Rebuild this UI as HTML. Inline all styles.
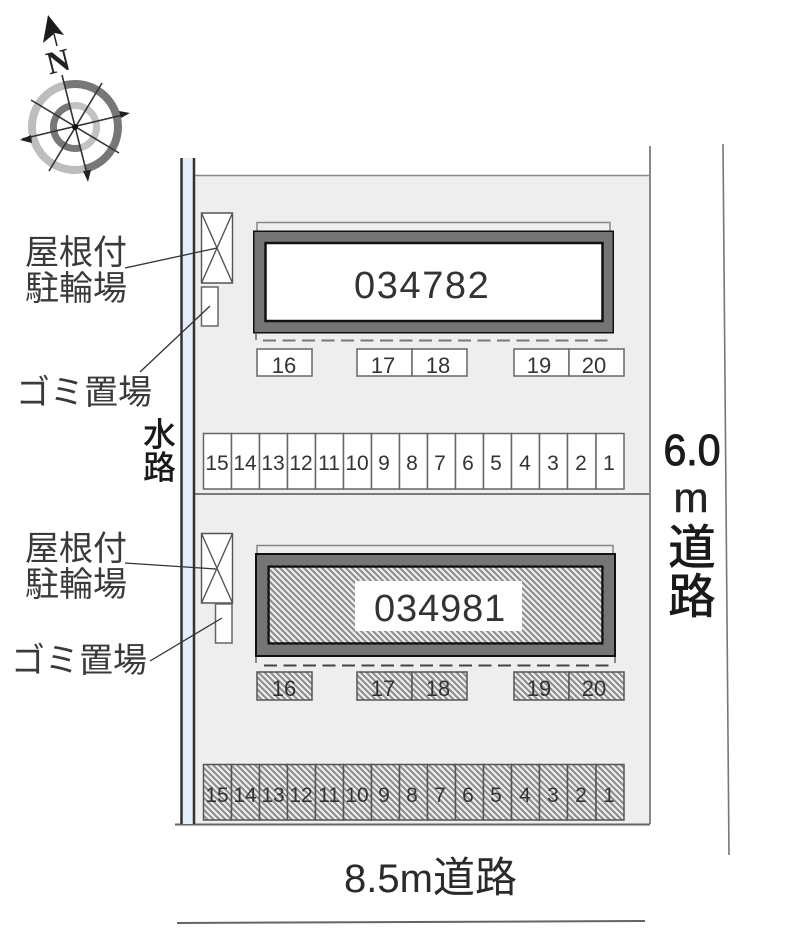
<!DOCTYPE html>
<html><head><meta charset="utf-8"><style>
html,body{margin:0;padding:0;background:#fff}
svg{display:block}
text{font-family:"Liberation Sans","Noto Sans CJK JP",sans-serif;fill:#333}
.c{font-size:34px;fill:#3a3a3a}
.n{font-size:21px;text-anchor:middle;fill:#5a5a5a}
.m{font-size:22px;text-anchor:middle;fill:#444}
.h{font-size:21px;text-anchor:middle;fill:#5a5a5a}
.hm{font-size:22px;text-anchor:middle;fill:#4a4a4a}
.b{fill:#fff;stroke:#666;stroke-width:1.5}
.hb{fill:url(#hatch);stroke:#555;stroke-width:1.5}
</style></head><body>
<svg width="800" height="940" viewBox="0 0 800 940" xmlns="http://www.w3.org/2000/svg">
<defs>
<pattern id="hatch" width="6" height="6" patternUnits="userSpaceOnUse">
<rect width="6" height="6" fill="#ececec"/>
<path d="M0 0L6 6M-1 5L1 7M5 -1L7 1" stroke="#8a8a8a" stroke-width="2"/>
</pattern>
</defs>
<rect x="195" y="176" width="455" height="648" fill="#eeeeee"/>
<path d="M195 175.500H650" stroke="#888" stroke-width="1.500"/>
<path d="M195 494H650" stroke="#555" stroke-width="1.500"/>
<path d="M650 146V824" stroke="#8a8a8a" stroke-width="2"/>
<path d="M175 824.500H650" stroke="#666" stroke-width="2"/>
<path d="M723 144L729 855" stroke="#777" stroke-width="1.600"/>
<path d="M177 923L645 921" stroke="#666" stroke-width="2"/>
<rect x="182" y="158" width="12" height="666" fill="#e3eefa"/>
<path d="M181.500 158V824M194 158V824" stroke="#333" stroke-width="2.500"/>

<!-- Compass -->
<g fill="none" transform="rotate(-14 75 127)">
<path d="M75 84A43 43 0 0 1 75 170" stroke="#777" stroke-width="8"/>
<path d="M75 170A43 43 0 0 1 75 84" stroke="#bdbdbd" stroke-width="8"/>
<path d="M75 105.500A21.500 21.500 0 0 0 75 148.500" stroke="#777" stroke-width="7"/>
<path d="M75 148.500A21.500 21.500 0 0 0 75 105.500" stroke="#c2c2c2" stroke-width="7"/>
</g>
<path d="M62 75L88 178M22 139L127 114M102 83L49 171M31 100L119 153" stroke="#333" stroke-width="1.600" fill="none"/>
<circle cx="75" cy="127" r="3" fill="#111"/>
<path d="M130 113L119 111L121 118ZM20 140L31 135L32 143ZM88 182L83 171L91 170Z" fill="#222"/>
<path d="M48 15L64 35L55 33L43 43Z" fill="#1c1c1c"/>
<path d="M54 34L57 46" stroke="#222" stroke-width="1.500"/>
<text x="58" y="72" transform="rotate(-14 58 61)" style="font-family:'Liberation Serif',serif;font-weight:bold;font-size:32px;fill:#222;text-anchor:middle">N</text>

<!-- Building 1 -->
<path d="M257 232V222.500H610V232" fill="none" stroke="#888" stroke-width="1.500"/>
<rect x="254.500" y="232" width="358" height="100" fill="#fff" stroke="#111" stroke-width="3"/>
<rect x="259.500" y="237" width="348" height="90" fill="none" stroke="#757575" stroke-width="10"/>
<rect x="265.500" y="243" width="337" height="78" fill="#fff" stroke="#111" stroke-width="2.500"/>
<path d="M256 333V340" stroke="#666" stroke-width="1.500"/>
<path d="M263 340.500H612" stroke="#777" stroke-width="2" stroke-dasharray="13 6.500"/>
<text x="354" y="298" style="font-size:38px;letter-spacing:1.600px">034782</text>

<!-- Building 2 -->
<path d="M257 555V545.500H613V555" fill="none" stroke="#888" stroke-width="1.500"/>
<rect x="256.500" y="554.500" width="358" height="101" fill="url(#hatch)" stroke="#111" stroke-width="3"/>
<rect x="262" y="560" width="347" height="90" fill="none" stroke="#757575" stroke-width="10"/>
<rect x="268.500" y="566.500" width="334" height="77" fill="url(#hatch)" stroke="#111" stroke-width="2.500"/>
<rect x="355" y="581" width="167" height="50" fill="#fff"/>
<path d="M256 657V663M615 657V663" stroke="#666" stroke-width="1.500"/>
<path d="M264 665.500H612" stroke="#444" stroke-width="2" stroke-dasharray="13 6.500"/>
<text x="374" y="621" style="font-size:38px;letter-spacing:.9px">034981</text>

<!-- Bike / trash -->
<path d="M201.500 213H232.500V283H201.500ZM201.500 213L232.500 283M232.500 213L201.500 283" fill="#fff" stroke="#555" stroke-width="1.400"/>
<rect x="201.500" y="287" width="16.500" height="39" class="b"/>
<path d="M201.500 533.500H232.500V603H201.500ZM201.500 533.500L232.500 603M232.500 533.500L201.500 603" fill="#fff" stroke="#555" stroke-width="1.400"/>
<rect x="215.500" y="604" width="16.500" height="39" class="b"/>

<!-- Upper parking -->
<g class="b">
<rect x="257" y="349" width="55" height="27"/>
<rect x="357" y="349" width="55" height="27"/><rect x="412" y="349" width="55" height="27"/>
<rect x="514" y="349" width="55" height="27"/><rect x="569" y="349" width="55" height="27"/>
</g>
<g class="m">
<text x="284" y="373">16</text><text x="383" y="373">17</text><text x="438" y="373">18</text><text x="539" y="373">19</text><text x="594" y="373">20</text>
</g>
<g class="b">
<rect x="203.500" y="433.500" width="28" height="55.500"/><rect x="231.500" y="433.500" width="28" height="55.500"/><rect x="259.500" y="433.500" width="28" height="55.500"/><rect x="287.500" y="433.500" width="28" height="55.500"/><rect x="315.500" y="433.500" width="28" height="55.500"/><rect x="343.500" y="433.500" width="28" height="55.500"/><rect x="371.500" y="433.500" width="28" height="55.500"/><rect x="399.500" y="433.500" width="28" height="55.500"/><rect x="427.500" y="433.500" width="28" height="55.500"/><rect x="455.500" y="433.500" width="28" height="55.500"/><rect x="483.500" y="433.500" width="28" height="55.500"/><rect x="511.500" y="433.500" width="28" height="55.500"/><rect x="539.500" y="433.500" width="28" height="55.500"/><rect x="567.500" y="433.500" width="28.500" height="55.500"/><rect x="596" y="433.500" width="28" height="55.500"/>
</g>
<g class="n">
<text x="217" y="470">15</text><text x="245" y="470">14</text><text x="273" y="470">13</text><text x="301" y="470">12</text><text x="329" y="470">11</text><text x="357" y="470">10</text><text x="384" y="470">9</text><text x="412" y="470">8</text><text x="440" y="470">7</text><text x="468" y="470">6</text><text x="496" y="470">5</text><text x="525" y="470">4</text><text x="553" y="470">3</text><text x="581" y="470">2</text><text x="609" y="470">1</text>
</g>

<!-- Lower parking -->
<g class="hb">
<rect x="257" y="672" width="55" height="28"/>
<rect x="357" y="672" width="55" height="28"/><rect x="412" y="672" width="55" height="28"/>
<rect x="514" y="672" width="55" height="28"/><rect x="569" y="672" width="55" height="28"/>
</g>
<g class="hm">
<text x="284" y="696">16</text><text x="383" y="696">17</text><text x="438" y="696">18</text><text x="539" y="696">19</text><text x="594" y="696">20</text>
</g>
<g class="hb">
<rect x="203.500" y="764.500" width="28" height="55.500"/><rect x="231.500" y="764.500" width="28" height="55.500"/><rect x="259.500" y="764.500" width="28" height="55.500"/><rect x="287.500" y="764.500" width="28" height="55.500"/><rect x="315.500" y="764.500" width="28" height="55.500"/><rect x="343.500" y="764.500" width="28" height="55.500"/><rect x="371.500" y="764.500" width="28" height="55.500"/><rect x="399.500" y="764.500" width="28" height="55.500"/><rect x="427.500" y="764.500" width="28" height="55.500"/><rect x="455.500" y="764.500" width="28" height="55.500"/><rect x="483.500" y="764.500" width="28" height="55.500"/><rect x="511.500" y="764.500" width="28" height="55.500"/><rect x="539.500" y="764.500" width="28" height="55.500"/><rect x="567.500" y="764.500" width="28.500" height="55.500"/><rect x="596" y="764.500" width="28" height="55.500"/>
</g>
<g class="h">
<text x="217" y="802">15</text><text x="245" y="802">14</text><text x="273" y="802">13</text><text x="301" y="802">12</text><text x="329" y="802">11</text><text x="357" y="802">10</text><text x="384" y="802">9</text><text x="412" y="802">8</text><text x="440" y="802">7</text><text x="468" y="802">6</text><text x="496" y="802">5</text><text x="525" y="802">4</text><text x="553" y="802">3</text><text x="581" y="802">2</text><text x="609" y="802">1</text>
</g>

<!-- Leaders -->
<path d="M125 268L217 248M140 372L210 306M125 563L216 569M150 661L222 618" stroke="#333" stroke-width="1.300" fill="none"/>

<!-- Labels -->
<text class="c" x="25" y="264">屋根付</text>
<text class="c" x="25" y="300">駐輪場</text>
<text class="c" x="16" y="404">ゴミ置場</text>
<text class="c" x="25" y="560">屋根付</text>
<text class="c" x="25" y="596">駐輪場</text>
<text class="c" x="11" y="672">ゴミ置場</text>
<text x="143" y="446" style="font-size:33px;font-weight:500;fill:#1a1a1a">水</text>
<text x="143" y="479" style="font-size:33px;font-weight:500;fill:#1a1a1a">路</text>
<text x="692" y="465" textLength="57" lengthAdjust="spacingAndGlyphs" style="font-size:44px;text-anchor:middle;fill:#1a1a1a;stroke:#1a1a1a;stroke-width:1">6.0</text>
<text x="691" y="512" style="font-size:42px;text-anchor:middle;fill:#222;stroke:#222;stroke-width:.5">m</text>
<text x="692" y="564" style="font-size:48px;text-anchor:middle;font-weight:500;fill:#1a1a1a">道</text>
<text x="692" y="613" style="font-size:48px;text-anchor:middle;font-weight:500;fill:#1a1a1a">路</text>
<text x="344" y="892" style="font-size:40px;fill:#2a2a2a">8.5m<tspan style="font-size:42px">道路</tspan></text>
</svg>
</body></html>
